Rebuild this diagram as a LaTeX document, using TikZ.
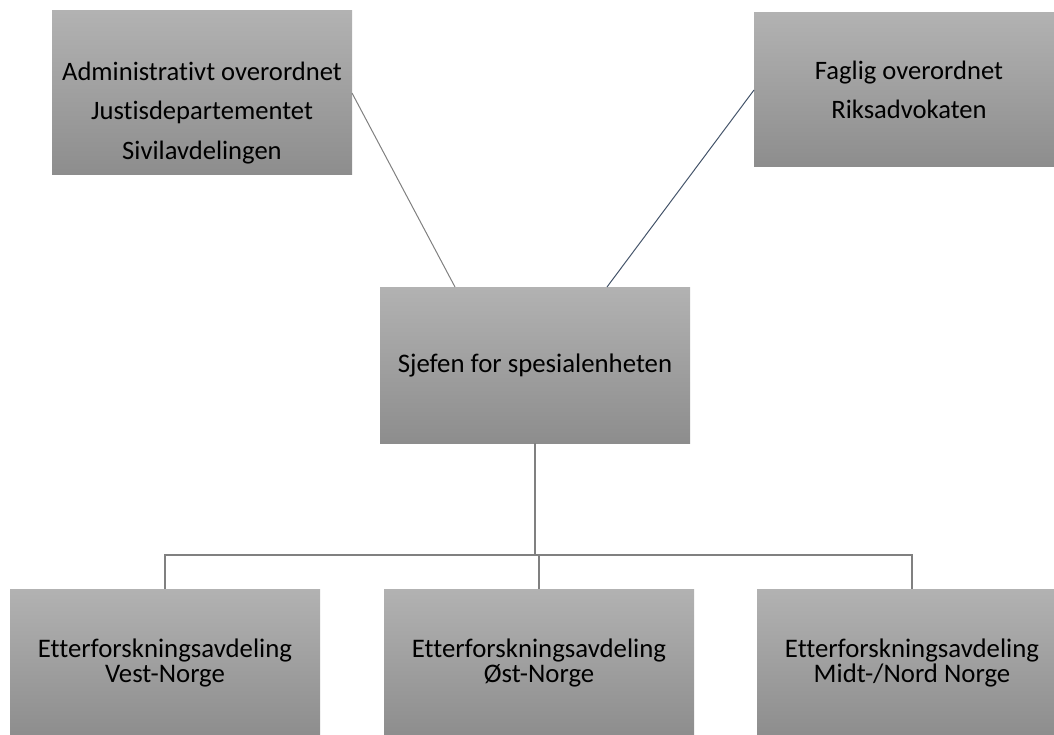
\documentclass[tikz,border=0pt]{standalone}
\usepackage{fontspec}
\setmainfont{Carlito}[Ligatures={NoCommon,NoContextual}]
\usepackage{xcolor}
\usepackage{tikz}
\usetikzlibrary{positioning}

\definecolor{boxtop}{RGB}{178,178,178}
\definecolor{boxbot}{RGB}{141,141,141}
\definecolor{linkgray}{RGB}{128,128,128}
\definecolor{linkslate}{RGB}{68,84,106}

\begin{document}
\begin{tikzpicture}[x=1pt,y=-1pt,
    unit/.style={rectangle, inner sep=0pt, outer sep=0pt, top color=boxtop, bottom color=boxbot,
        minimum width=310pt, minimum height=148pt, align=center},
    toptext/.style={font=\fontsize{26.6}{39.5}\selectfont, align=center},
    lowtext/.style={font=\fontsize{26.8}{24.5}\selectfont},
    tree/.style={draw=linkgray, line width=1.2pt}]
\clip (0,0) rectangle (1054,735);
% leaders on top
\node[unit, minimum width=300pt, minimum height=164pt] (admin) at (202,93) {};
\node[toptext] (admintext) at ([yshift=-20pt]admin.center)
    {Administrativt overordnet\\Justisdepartementet\\Sivilavdelingen};
\node[unit, toptext, minimum height=154pt] (faglig) at (909,90)
    {Faglig overordnet\\Riksadvokaten};
% head of the unit
\node[unit, minimum height=156pt, font=\fontsize{26.8}{30}\selectfont] (sjef) at (535,365)
    {Sjefen for spesialenheten};
% three departments
\node[unit, lowtext] (vest) at (165,663) {Etterforskningsavdeling\\Vest-Norge};
\node[unit, lowtext] (ost) at (539,663) {Etterforskningsavdeling\\Øst-Norge};
\node[unit, lowtext] (midt) at (912,663) {Etterforskningsavdeling\\Midt-/Nord Norge};
% links
\draw[linkgray, line width=1pt] (admin.east) -- ([xshift=-80pt]sjef.north);
\draw[linkslate, line width=1pt] ([xshift=72pt]sjef.north) -- (faglig.west);
\coordinate (bar) at (535,555);
\draw[tree, line width=1.6pt] (sjef.south) -- (bar);
\draw[tree] (vest.north) |- (bar) -| (midt.north);
\draw[tree] (ost.north) -- (ost.north |- bar);
\end{tikzpicture}
\end{document}
